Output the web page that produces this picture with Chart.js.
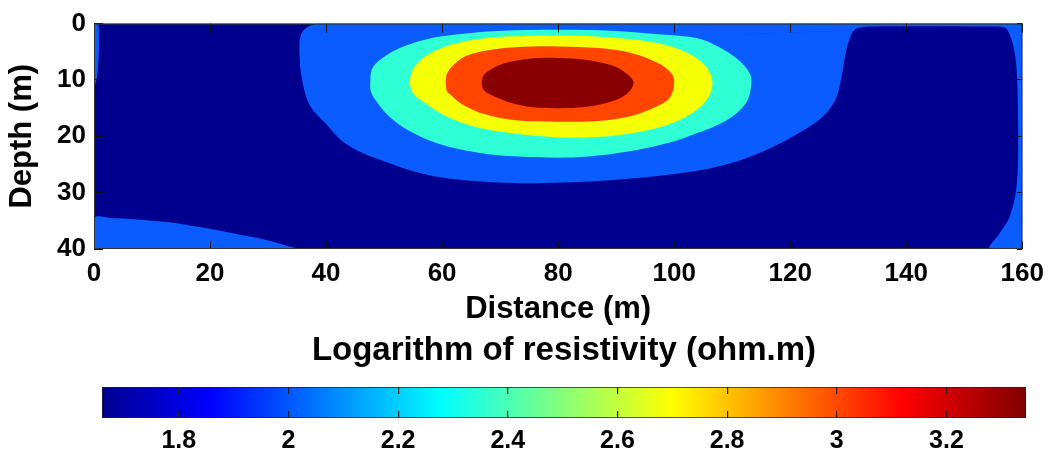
<!DOCTYPE html>
<html>
<head>
<meta charset="utf-8">
<title>Resistivity section</title>
<script src="https://cdn.jsdelivr.net/npm/chart.js@4.4.1/dist/chart.umd.min.js"></script>
<style>
  html, body { margin: 0; padding: 0; background: #fff; }
  #wrap { position: relative; width: 1053px; height: 457px; }
  .box { position: absolute; left: 0; width: 1053px; }
  #sectionBox { top: 0; height: 330px; }
  #barBox { top: 330px; height: 127px; }
</style>
</head>
<body>
<div id="wrap">
  <div class="box" id="sectionBox"><canvas id="section"></canvas></div>
  <div class="box" id="barBox"><canvas id="colorbar"></canvas></div>
</div>
<script>
// axis ticks
const distanceTicks = [0, 20, 40, 60, 80, 100, 120, 140, 160];
const depthTicks = [0, 10, 20, 30, 40];
const colorbarTicks = [1.8, 2, 2.2, 2.4, 2.6, 2.8, 3, 3.2];
const colorbarRange = [1.66, 3.345];

const redZone = [
    [66.8, 10.5], [67.1, 9.3], [68.3, 8.2], [70.9, 7.0], [75.4, 6.2], [80.0, 6.1], [84.6, 6.4],
    [89.2, 7.4], [91.7, 8.8], [93.0, 10.5], [91.7, 12.6], [88.6, 14.0], [84.6, 14.8],
    [80.0, 15.0], [75.4, 14.8], [71.4, 13.9], [68.3, 12.6], [67.1, 11.7]
];
const orangeZone = [
    [60.6, 10.5], [60.8, 9.0], [61.7, 7.6], [64.0, 5.8], [67.4, 4.8], [72.6, 4.2], [80.0, 4.05],
    [86.9, 4.35], [92.6, 5.2], [97.2, 7.0], [99.5, 8.8], [100.0, 10.5], [99.2, 13.2],
    [96.6, 14.9], [92.6, 16.4], [86.9, 17.3], [80.0, 17.4], [73.1, 17.2], [67.4, 16.1],
    [63.4, 14.3], [61.4, 12.6], [60.8, 11.9]
];
const yellowZone = [
    [54.4, 10.8], [54.6, 9.2], [55.1, 7.9], [57.1, 5.8], [60.6, 4.05], [65.1, 2.9], [70.9, 2.3],
    [80.0, 2.1], [89.7, 2.5], [97.2, 3.5], [102.3, 5.2], [105.5, 7.6], [106.6, 10.5],
    [105.5, 13.7], [102.3, 16.4], [97.2, 18.5], [90.3, 19.8], [84.6, 20.2], [80.0, 20.2],
    [73.1, 19.6], [66.3, 18.5], [60.6, 16.4], [56.5, 13.7], [55.0, 12.4]
];
const cyanZone = [
    [47.6, 10.8], [47.9, 8.1], [49.6, 6.2], [52.5, 4.4], [57.2, 2.8], [62.8, 1.9],
    [69.7, 1.3], [80.0, 1.1], [89.8, 1.3], [98.4, 2.0], [104.0, 2.6], [107.5, 4.05],
    [110.9, 6.3], [113.0, 8.8], [113.3, 10.6], [112.6, 13.7], [110.4, 16.2], [107.0, 18.2],
    [104.0, 19.4], [98.9, 21.2], [92.0, 22.7], [85.2, 23.6], [80.0, 23.8], [73.1, 23.6],
    [66.3, 22.9], [59.4, 21.3], [54.3, 19.0], [50.8, 16.4], [48.6, 13.7], [47.7, 12.0]
];
const blueZone = [
    [35.4, 5.0], [35.5, 2.6], [36.2, 1.1], [37.5, 0.3], [39.0, 0], [160, 0], [160, 40],
    [154.4, 40], [156.1, 37.2], [157.8, 34.3], [159.0, 29.0], [159.3, 19.6], [159.0, 7.9],
    [158.4, 3.8], [157.3, 0.9], [156.2, 0.55], [155.0, 0.5], [134.0, 0.5], [132.0, 0.7],
    [131.0, 1.2], [130.3, 2.5], [129.6, 5.0], [128.8, 9.7], [127.8, 13.5], [125.5, 16.6],
    [121.2, 19.6], [115.5, 22.6], [109.7, 24.8], [104.0, 26.1], [92.5, 27.5], [81.2, 28.2],
    [69.7, 28.2], [58.2, 27.0], [49.6, 24.3], [43.4, 21.3], [40.0, 17.8], [37.1, 14.3],
    [35.7, 9.0]
];
const blueBottomLeft = [
    [0, 40], [0, 34.5], [3.0, 34.5], [6.7, 34.7], [12.5, 35.2], [18.2, 36.1], [23.9, 37.2],
    [29.7, 38.4], [34.2, 39.7], [35.2, 40]
];
const blueLeftEdge = [
    [0, 11.5], [0, 0], [0.7, 0], [0.85, 2.5], [0.8, 6.0], [0.5, 9.5]
];

const navy = '#00008F';
const zones = [
    { pts: redZone, color: '#880000' },
    { pts: orangeZone, color: '#FF4500' },
    { pts: yellowZone, color: '#F5FF05' },
    { pts: cyanZone, color: '#2EFFD5' },
    { pts: blueZone, color: '#0A5CFF' },
    { pts: blueBottomLeft, color: '#0A5CFF' },
    { pts: blueLeftEdge, color: '#0A5CFF' }
];

// jet colour stops along the colour bar
const jetPos = [0, 0.117, 0.367, 0.617, 0.867, 1];
const jetCol = ['#00008F', '#0000FF', '#00FFFF', '#FFFF00', '#FF0000', '#800000'];

const fontFamily = "'Liberation Sans', Arial, sans-serif";
const tickFont = { family: fontFamily, size: 26, weight: 'bold' };
const titleFont = { family: fontFamily, size: 31, weight: 'bold' };

// ring starts at its leftmost vertex and closes there, then runs a flat
// (doubled end points keep the spline straight) chord to the rightmost vertex
// so the filler's x clip spans the whole shape
function ring(pairs) {
    let lo = 0, hi = 0;
    pairs.forEach((p, i) => {
        if (p[0] < pairs[lo][0]) lo = i;
        if (p[0] > pairs[hi][0]) hi = i;
    });
    const rot = pairs.slice(lo).concat(pairs.slice(0, lo));
    rot.push(pairs[lo], pairs[lo], pairs[hi], pairs[hi]);
    return rot.map(([x, y]) => ({ x, y }));
}

const sectionFrame = {
    id: 'sectionFrame',
    beforeDatasetsDraw(chart) {
        const { ctx, chartArea: a } = chart;
        ctx.save();
        ctx.fillStyle = navy;
        ctx.fillRect(a.left, a.top, a.width, a.height);
        ctx.restore();
    },
    afterDraw(chart) {
        const { ctx, chartArea: a } = chart;
        ctx.save();
        ctx.strokeStyle = '#333';
        ctx.lineWidth = 1;
        ctx.strokeRect(a.left + 0.5, a.top + 0.5, a.width - 1, a.height - 1);
        ctx.restore();
    }
};

new Chart(document.getElementById('section'), {
    type: 'scatter',
    data: {
        datasets: zones.map(z => ({
            data: ring(z.pts),
            showLine: true,
            fill: 'shape',
            backgroundColor: z.color,
            borderColor: 'rgba(0,0,0,0)',
            borderWidth: 0,
            pointRadius: 0,
            tension: 0.35
        }))
    },
    options: {
        responsive: true,
        maintainAspectRatio: false,
        devicePixelRatio: 1,
        animation: false,
        events: [],
        layout: { padding: { top: 22, right: 27, left: 0, bottom: 0 } },
        plugins: {
            legend: { display: false },
            tooltip: { enabled: false }
        },
        scales: {
            x: {
                type: 'linear',
                min: 0,
                max: 160,
                afterBuildTicks: s => { s.ticks = distanceTicks.map(v => ({ value: v })); },
                afterFit: s => { s.height = 81; },
                grid: { color: '#111', lineWidth: 1, drawTicks: false, z: 1 },
                border: { display: false, dash: [9, 209] },
                ticks: { padding: 9, color: '#000', font: tickFont, maxRotation: 0, autoSkip: false, callback: v => String(v) },
                title: { display: true, text: 'Distance (m)', color: '#000', font: titleFont, padding: { top: 0, bottom: 2 } }
            },
            y: {
                type: 'linear',
                reverse: true,
                min: 0,
                max: 40,
                afterBuildTicks: s => { s.ticks = depthTicks.map(v => ({ value: v })); },
                afterFit: s => { s.width = 94; },
                grid: { color: '#111', lineWidth: 1, drawTicks: false, z: 1 },
                border: { display: false, dash: [9, 914] },
                ticks: { padding: 8, color: '#000', font: tickFont, autoSkip: false, callback: v => String(v) },
                title: { display: true, text: 'Depth (m)', color: '#000', font: titleFont, padding: { top: 4, bottom: 0 } }
            }
        }
    },
    plugins: [sectionFrame]
});

function jetFill(c) {
    const chart = c.chart;
    const xs = chart.scales.x;
    if (!xs || !chart.chartArea) return jetCol[0];
    const x0 = xs.getPixelForValue(colorbarRange[0]);
    const x1 = xs.getPixelForValue(colorbarRange[1]);
    const g = chart.ctx.createLinearGradient(x0, 0, x1, 0);
    jetPos.forEach((p, i) => g.addColorStop(p, jetCol[i]));
    return g;
}

new Chart(document.getElementById('colorbar'), {
    type: 'bar',
    data: {
        labels: [''],
        datasets: [{
            data: [colorbarRange],
            backgroundColor: jetFill,
            borderColor: '#222',
            borderWidth: 1,
            borderSkipped: false,
            barPercentage: 1,
            categoryPercentage: 1
        }]
    },
    options: {
        indexAxis: 'y',
        responsive: true,
        maintainAspectRatio: false,
        devicePixelRatio: 1,
        animation: false,
        events: [],
        layout: { padding: { left: 102, right: 27, top: 0, bottom: 0 } },
        plugins: {
            legend: { display: false },
            tooltip: { enabled: false },
            title: {
                display: true,
                text: 'Logarithm of resistivity (ohm.m)',
                color: '#000',
                font: { family: fontFamily, size: 33, weight: 'bold' },
                padding: { top: 1.5, bottom: 15.9 }
            }
        },
        scales: {
            x: {
                type: 'linear',
                min: colorbarRange[0],
                max: colorbarRange[1],
                afterBuildTicks: s => { s.ticks = colorbarTicks.map(v => ({ value: v })); },
                afterFit: s => { s.height = 39; },
                grid: { color: '#222', lineWidth: 1.2, drawTicks: false, z: 1 },
                border: { display: false, dash: [7, 17] },
                ticks: { padding: 8, color: '#000', font: { family: fontFamily, size: 25, weight: 'bold' }, maxRotation: 0, autoSkip: false, callback: v => String(v) }
            },
            y: { display: false }
        }
    }
});
</script>
</body>
</html>
